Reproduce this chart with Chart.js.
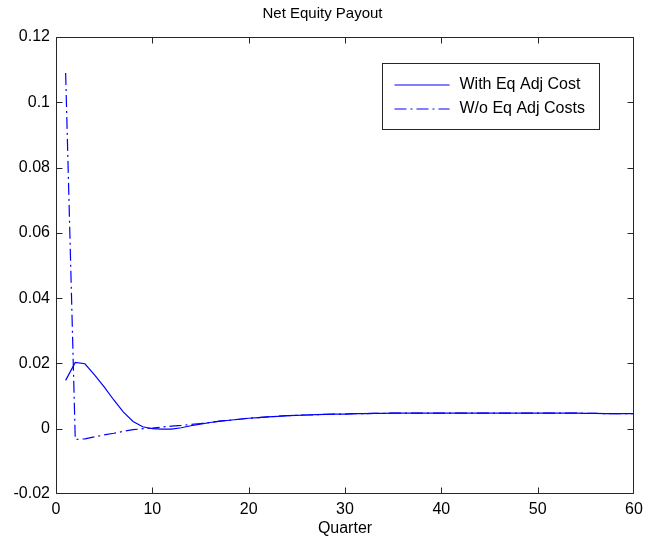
<!DOCTYPE html>
<html>
<head>
<meta charset="utf-8">
<title>Net Equity Payout</title>
<script src="https://cdn.jsdelivr.net/npm/chart.js@4/dist/chart.umd.min.js"></script>
<style>
  html, body { margin: 0; padding: 0; background: #ffffff; }
  #wrap { width: 645px; height: 546px; }
</style>
</head>
<body>
<div id="wrap"><canvas id="c" width="645" height="546"></canvas></div>
<script>
// Quarters after the shock
const quarters = [
  1, 2, 3, 4, 5, 6, 7, 8, 9, 10,
  11, 12, 13, 14, 15, 16, 17, 18, 19, 20,
  21, 22, 23, 24, 25, 26, 27, 28, 29, 30,
  31, 32, 33, 34, 35, 36, 37, 38, 39, 40,
  41, 42, 43, 44, 45, 46, 47, 48, 49, 50,
  51, 52, 53, 54, 55, 56, 57, 58, 59, 60
];

// Net equity payout response, model with equity adjustment costs
const withAdjCost = [
  0.0148, 0.0203, 0.0199, 0.0165, 0.0128, 0.0088, 0.0051, 0.0022, 0.0006, 0.0000,
  -0.0001, -0.0001, 0.0003, 0.0009, 0.0014, 0.0019, 0.0023, 0.0026, 0.0029, 0.0032,
  0.0034, 0.0036, 0.0038, 0.0040, 0.0041, 0.0042, 0.0043, 0.0044, 0.0045, 0.0045,
  0.0046, 0.0046, 0.0047, 0.0047, 0.0048, 0.0048, 0.0048, 0.0048, 0.0048, 0.0048,
  0.0048, 0.0048, 0.0048, 0.0048, 0.0048, 0.0048, 0.0048, 0.0048, 0.0048, 0.0048,
  0.0048, 0.0048, 0.0048, 0.0048, 0.0047, 0.0047, 0.0046, 0.0046, 0.0046, 0.0046
];

// Net equity payout response, model without equity adjustment costs
const withoutAdjCost = [
  0.1090, -0.0033, -0.0031, -0.0025, -0.0019, -0.0014, -0.0008, -0.0003, 0.0000, 0.0002,
  0.0005, 0.0008, 0.0010, 0.0013, 0.0016, 0.0019, 0.0023, 0.0026, 0.0029, 0.0032,
  0.0034, 0.0036, 0.0038, 0.0040, 0.0041, 0.0042, 0.0043, 0.0044, 0.0045, 0.0045,
  0.0046, 0.0046, 0.0047, 0.0047, 0.0048, 0.0048, 0.0048, 0.0048, 0.0048, 0.0048,
  0.0048, 0.0048, 0.0048, 0.0048, 0.0048, 0.0048, 0.0048, 0.0048, 0.0048, 0.0048,
  0.0048, 0.0048, 0.0048, 0.0048, 0.0047, 0.0047, 0.0046, 0.0046, 0.0046, 0.0046
];

const seriesNames = ['With Eq Adj Cost', 'W/o Eq Adj Costs'];
const seriesDashes = [[], [12, 4, 2, 4]];
const chartTitle = 'Net Equity Payout';
const xTicks = [0, 10, 20, 30, 40, 50, 60];
const yTicks = [-0.02, 0, 0.02, 0.04, 0.06, 0.08, 0.1, 0.12];

const FONT = "'Liberation Sans', Arial, Helvetica, sans-serif";
const BLUE = 'rgb(0, 0, 255)';
const AXIS = '#262626';
const LINE_W = 1.2;

function points(xs, ys) {
  return xs.map((x, i) => ({ x: x, y: ys[i] }));
}

// Title centred over the whole figure
const figureTitle = {
  id: 'figureTitle',
  afterDraw(chart) {
    const { ctx, width } = chart;
    ctx.save();
    ctx.font = '15px ' + FONT;
    ctx.fillStyle = '#000000';
    ctx.textAlign = 'center';
    ctx.textBaseline = 'middle';
    ctx.fillText(chartTitle, width / 2, 14);
    ctx.restore();
  }
};

// Full box around the plot with inward tick marks on all four sides
const boxAxes = {
  id: 'boxAxes',
  afterDatasetsDraw(chart) {
    const { ctx, chartArea: a, scales } = chart;
    const L = Math.round(a.left) + 0.5, R = Math.round(a.right) - 0.5;
    const T = Math.round(a.top) + 0.5, B = Math.round(a.bottom) - 0.5;
    const len = 6;
    ctx.save();
    ctx.strokeStyle = AXIS;
    ctx.lineWidth = 1;
    ctx.beginPath();
    ctx.rect(L, T, R - L, B - T);
    xTicks.forEach(v => {
      const px = Math.min(Math.round(scales.x.getPixelForValue(v)) + 0.5, R);
      ctx.moveTo(px, B); ctx.lineTo(px, B - len);
      ctx.moveTo(px, T); ctx.lineTo(px, T + len);
    });
    yTicks.forEach(v => {
      const py = Math.min(Math.round(scales.y.getPixelForValue(v)) + 0.5, B);
      ctx.moveTo(L, py); ctx.lineTo(L + len, py);
      ctx.moveTo(R, py); ctx.lineTo(R - len, py);
    });
    ctx.stroke();
    ctx.restore();
  }
};

// Boxed legend in the upper right of the plot
const boxLegend = {
  id: 'boxLegend',
  afterDraw(chart) {
    const { ctx, chartArea: a } = chart;
    const w = 217, h = 66;
    const left = Math.round(a.right) - 35 - w + 0.5;
    const top = Math.round(a.top) + 26 + 0.5;
    ctx.save();
    ctx.fillStyle = '#ffffff';
    ctx.fillRect(left, top, w, h);
    ctx.strokeStyle = AXIS;
    ctx.lineWidth = 1;
    ctx.strokeRect(left, top, w, h);
    ctx.font = '16px ' + FONT;
    ctx.textBaseline = 'middle';
    ctx.textAlign = 'left';
    seriesNames.forEach((name, i) => {
      const y = Math.round(top + 21 + i * 24);
      ctx.beginPath();
      ctx.strokeStyle = BLUE;
      ctx.lineWidth = LINE_W;
      ctx.setLineDash(seriesDashes[i]);
      ctx.moveTo(left + 12, y);
      ctx.lineTo(left + 67, y);
      ctx.stroke();
      ctx.setLineDash([]);
      ctx.fillStyle = '#000000';
      ctx.fillText(name, left + 77, y);
    });
    ctx.restore();
  }
};

new Chart(document.getElementById('c'), {
  type: 'line',
  data: {
    datasets: [
      {
        label: seriesNames[0],
        data: points(quarters, withAdjCost),
        borderColor: BLUE,
        borderWidth: LINE_W,
        borderDash: seriesDashes[0],
        pointRadius: 0,
        tension: 0,
        fill: false
      },
      {
        label: seriesNames[1],
        data: points(quarters, withoutAdjCost),
        borderColor: BLUE,
        borderWidth: LINE_W,
        borderDash: seriesDashes[1],
        pointRadius: 0,
        tension: 0,
        fill: false
      }
    ]
  },
  options: {
    responsive: false,
    animation: false,
    devicePixelRatio: 1,
    layout: { padding: { left: 0, right: 11, top: 37, bottom: 0 } },
    plugins: {
      legend: { display: false },
      tooltip: { enabled: false },
      title: { display: false }
    },
    scales: {
      x: {
        type: 'linear',
        min: 0,
        max: 60,
        afterBuildTicks: s => { s.ticks = xTicks.map(v => ({ value: v })); },
        afterFit: s => { s.height = 52; s.paddingLeft = 0; s.paddingRight = 0; },
        grid: { display: false, drawTicks: false },
        border: { display: false },
        ticks: {
          color: '#000000',
          font: { family: FONT, size: 16 },
          padding: 6,
          maxRotation: 0,
          autoSkip: false
        },
        title: {
          display: true,
          text: 'Quarter',
          color: '#000000',
          font: { family: FONT, size: 16 },
          padding: { top: 0, bottom: 8 }
        }
      },
      y: {
        type: 'linear',
        min: -0.02,
        max: 0.12,
        afterBuildTicks: s => { s.ticks = yTicks.map(v => ({ value: v })); },
        afterFit: s => { s.width = 56; },
        grid: { display: false, drawTicks: false },
        border: { display: false },
        ticks: {
          color: '#000000',
          font: { family: FONT, size: 16 },
          padding: 6,
          autoSkip: false,
          callback: v => String(+Number(v).toFixed(4))
        }
      }
    }
  },
  plugins: [boxAxes, boxLegend, figureTitle]
});
</script>
</body>
</html>
